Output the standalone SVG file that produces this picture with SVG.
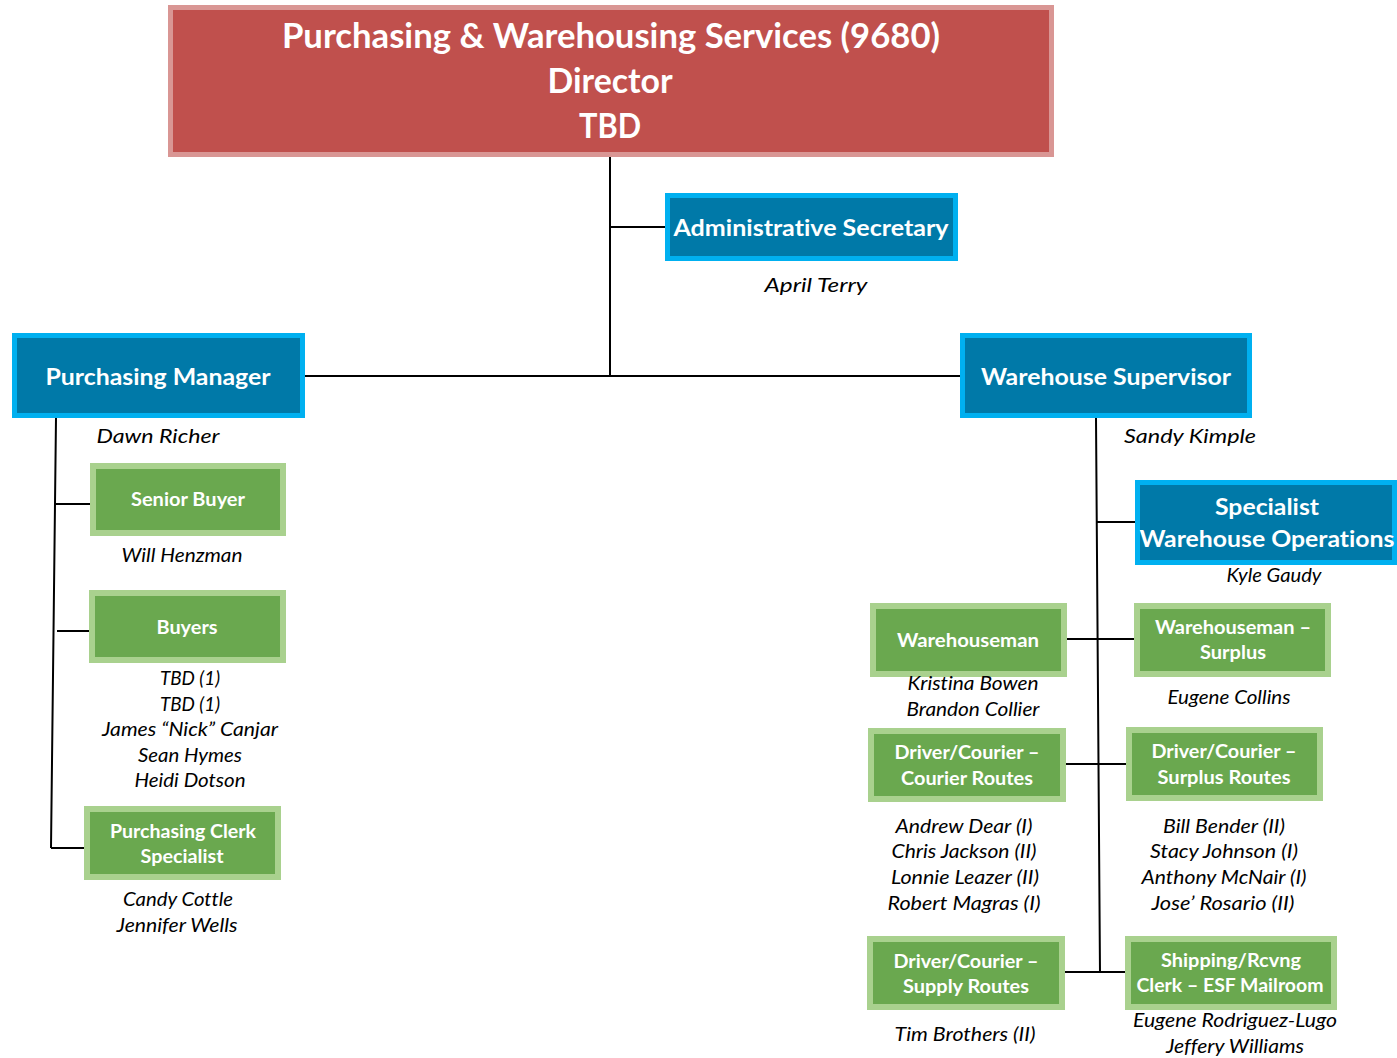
<svg xmlns="http://www.w3.org/2000/svg" width="1397" height="1058" viewBox="0 0 1397 1058">
<style>
.red{fill:#c0504d;stroke:#d99694;stroke-width:5}
.blue{fill:#0079a8;stroke:#00b0f0;stroke-width:5}
.green{fill:#6aa84f;stroke:#a9d18e;stroke-width:6}
.t{font-family:Lato,"Open Sans","Liberation Sans",sans-serif;font-weight:bold;fill:#fff;text-anchor:middle;font-variant-ligatures:none}
.n{font-family:Lato,"Open Sans","Liberation Sans",sans-serif;font-style:italic;fill:#000;text-anchor:middle;font-size:20px;font-variant-ligatures:none}
.c{stroke:#000;stroke-width:2;fill:none}
</style>
<rect width="1397" height="1058" fill="#fff"/>
<g id="connectors">
<path class="c" d="M610 157V376M610 227H666M305 376H961"/>
<path class="c" d="M56 418L51 848M55 504H92M57 631H92M51 848H86"/>
<path class="c" d="M1096 418L1100 973M1096 522H1137M1066 639H1136M1064 764H1128M1062 972H1128"/>
</g>
<g id="director">
<rect class="red" x="170.5" y="7.5" width="881" height="147"/>
<text class="t" x="611" y="48" font-size="34" textLength="658" lengthAdjust="spacingAndGlyphs">Purchasing &amp; Warehousing Services (9680)</text>
<text class="t" x="610" y="93" font-size="34" textLength="125" lengthAdjust="spacingAndGlyphs">Director</text>
<text class="t" x="610" y="138" font-size="34" textLength="62" lengthAdjust="spacingAndGlyphs">TBD</text>
</g>
<g id="admin-secretary">
<rect class="blue" x="667.5" y="195.5" width="288" height="63"/>
<text class="t" x="811" y="236" font-size="23" textLength="275" lengthAdjust="spacingAndGlyphs">Administrative Secretary</text>
<text class="n" x="816" y="292" font-size="22" textLength="103" lengthAdjust="spacingAndGlyphs">April Terry</text>
</g>
<g id="purchasing-manager">
<rect class="blue" x="14.5" y="335.5" width="288" height="80"/>
<text class="t" x="158" y="385" font-size="23" textLength="225" lengthAdjust="spacingAndGlyphs">Purchasing Manager</text>
<text class="n" x="158" y="443" font-size="22" textLength="123" lengthAdjust="spacingAndGlyphs">Dawn Richer</text>
</g>
<g id="warehouse-supervisor">
<rect class="blue" x="962.5" y="335.5" width="287" height="80"/>
<text class="t" x="1106" y="385" font-size="23" textLength="250" lengthAdjust="spacingAndGlyphs">Warehouse Supervisor</text>
<text class="n" x="1190" y="443" font-size="22" textLength="132" lengthAdjust="spacingAndGlyphs">Sandy Kimple</text>
</g>
<g id="specialist-warehouse-ops">
<rect class="blue" x="1137.5" y="482.5" width="257" height="80"/>
<text class="t" x="1267" y="515" font-size="23" textLength="104" lengthAdjust="spacingAndGlyphs">Specialist</text>
<text class="t" x="1267" y="547" font-size="23" textLength="255" lengthAdjust="spacingAndGlyphs">Warehouse Operations</text>
<text class="n" x="1274" y="582" textLength="95" lengthAdjust="spacingAndGlyphs">Kyle Gaudy</text>
</g>
<g id="senior-buyer">
<rect class="green" x="93" y="466" width="190" height="67"/>
<text class="t" x="188" y="506" font-size="19" textLength="114" lengthAdjust="spacingAndGlyphs">Senior Buyer</text>
<text class="n" x="182" y="562" textLength="121" lengthAdjust="spacingAndGlyphs">Will Henzman</text>
</g>
<g id="buyers">
<rect class="green" x="92" y="593" width="191" height="67"/>
<text class="t" x="187" y="634" font-size="19" textLength="61" lengthAdjust="spacingAndGlyphs">Buyers</text>
<text class="n" x="190" y="685" textLength="60" lengthAdjust="spacingAndGlyphs">TBD (1)</text>
<text class="n" x="190" y="711" textLength="60" lengthAdjust="spacingAndGlyphs">TBD (1)</text>
<text class="n" x="190" y="736" textLength="176" lengthAdjust="spacingAndGlyphs">James “Nick” Canjar</text>
<text class="n" x="190" y="762" textLength="104" lengthAdjust="spacingAndGlyphs">Sean Hymes</text>
<text class="n" x="190" y="787" textLength="111" lengthAdjust="spacingAndGlyphs">Heidi Dotson</text>
</g>
<g id="purchasing-clerk">
<rect class="green" x="87" y="809" width="191" height="68"/>
<text class="t" x="183" y="838" font-size="19" textLength="146" lengthAdjust="spacingAndGlyphs">Purchasing Clerk</text>
<text class="t" x="182" y="863" font-size="19" textLength="83" lengthAdjust="spacingAndGlyphs">Specialist</text>
<text class="n" x="178" y="906" textLength="110" lengthAdjust="spacingAndGlyphs">Candy Cottle</text>
<text class="n" x="177" y="932" textLength="121" lengthAdjust="spacingAndGlyphs">Jennifer Wells</text>
</g>
<g id="warehouseman">
<rect class="green" x="873" y="606" width="191" height="68"/>
<text class="t" x="968" y="647" font-size="19" textLength="142" lengthAdjust="spacingAndGlyphs">Warehouseman</text>
<text class="n" x="973" y="690" textLength="131" lengthAdjust="spacingAndGlyphs">Kristina Bowen</text>
<text class="n" x="973" y="716" textLength="133" lengthAdjust="spacingAndGlyphs">Brandon Collier</text>
</g>
<g id="warehouseman-surplus">
<rect class="green" x="1137" y="606" width="191" height="68"/>
<text class="t" x="1233" y="634" font-size="19" textLength="156" lengthAdjust="spacingAndGlyphs">Warehouseman –</text>
<text class="t" x="1233" y="659" font-size="19" textLength="66" lengthAdjust="spacingAndGlyphs">Surplus</text>
<text class="n" x="1229" y="704" textLength="123" lengthAdjust="spacingAndGlyphs">Eugene Collins</text>
</g>
<g id="driver-courier-routes">
<rect class="green" x="871" y="731" width="192" height="68"/>
<text class="t" x="967" y="759" font-size="19" textLength="145" lengthAdjust="spacingAndGlyphs">Driver/Courier –</text>
<text class="t" x="967" y="785" font-size="19" textLength="132" lengthAdjust="spacingAndGlyphs">Courier Routes</text>
<text class="n" x="964" y="833" textLength="137" lengthAdjust="spacingAndGlyphs">Andrew Dear (I)</text>
<text class="n" x="964" y="858" textLength="145" lengthAdjust="spacingAndGlyphs">Chris Jackson (II)</text>
<text class="n" x="965" y="884" textLength="148" lengthAdjust="spacingAndGlyphs">Lonnie Leazer (II)</text>
<text class="n" x="964" y="910" textLength="153" lengthAdjust="spacingAndGlyphs">Robert Magras (I)</text>
</g>
<g id="driver-surplus-routes">
<rect class="green" x="1129" y="730" width="191" height="68"/>
<text class="t" x="1224" y="758" font-size="19" textLength="145" lengthAdjust="spacingAndGlyphs">Driver/Courier –</text>
<text class="t" x="1224" y="784" font-size="19" textLength="133" lengthAdjust="spacingAndGlyphs">Surplus Routes</text>
<text class="n" x="1224" y="833" textLength="122" lengthAdjust="spacingAndGlyphs">Bill Bender (II)</text>
<text class="n" x="1224" y="858" textLength="148" lengthAdjust="spacingAndGlyphs">Stacy Johnson (I)</text>
<text class="n" x="1224" y="884" textLength="165" lengthAdjust="spacingAndGlyphs">Anthony McNair (I)</text>
<text class="n" x="1223" y="910" textLength="143" lengthAdjust="spacingAndGlyphs">Jose’ Rosario (II)</text>
</g>
<g id="driver-supply-routes">
<rect class="green" x="870" y="939" width="192" height="68"/>
<text class="t" x="966" y="968" font-size="19" textLength="145" lengthAdjust="spacingAndGlyphs">Driver/Courier –</text>
<text class="t" x="966" y="993" font-size="19" textLength="126" lengthAdjust="spacingAndGlyphs">Supply Routes</text>
<text class="n" x="965" y="1041" textLength="141" lengthAdjust="spacingAndGlyphs">Tim Brothers (II)</text>
</g>
<g id="shipping-clerk">
<rect class="green" x="1128" y="939" width="206" height="68"/>
<text class="t" x="1231" y="967" font-size="19" textLength="140" lengthAdjust="spacingAndGlyphs">Shipping/Rcvng</text>
<text class="t" x="1230" y="992" font-size="19" textLength="187" lengthAdjust="spacingAndGlyphs">Clerk – ESF Mailroom</text>
<text class="n" x="1235" y="1027" textLength="204" lengthAdjust="spacingAndGlyphs">Eugene Rodriguez-Lugo</text>
<text class="n" x="1235" y="1053" textLength="138" lengthAdjust="spacingAndGlyphs">Jeffery Williams</text>
</g>
</svg>
